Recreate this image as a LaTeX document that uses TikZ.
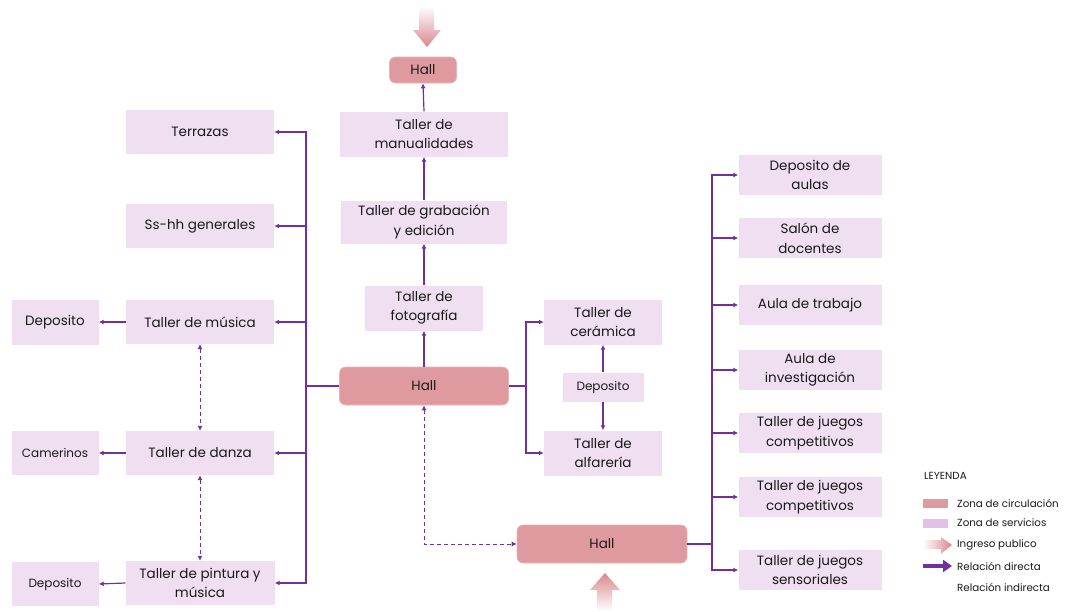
\documentclass[tikz,border=0pt]{standalone}
\usepackage{fontspec}
\setmainfont{Poppins}
\usetikzlibrary{arrows.meta}
\definecolor{svcfill}{HTML}{F0DFF1}
\definecolor{hallfill}{HTML}{DF9A9F}
\definecolor{hallline}{HTML}{E8B4B8}
\definecolor{arrowpink}{HTML}{D9878F}
\definecolor{legsvc}{HTML}{E2C0E8}
\definecolor{rel}{HTML}{7030A0}
\definecolor{txt}{HTML}{1A1A1A}
\begin{document}
\begin{tikzpicture}[x=1pt,y=-1pt,
  svc/.style={fill=svcfill, inner sep=0pt, align=center, text=txt,
    font=\fontsize{13.5}{19.5}\selectfont},
  hallbox/.style={fill=hallfill, draw=hallline, line width=0.6pt, rounded corners=6pt,
    inner sep=0pt, align=center, text=txt, font=\fontsize{13.5}{19.5}\selectfont},
  small/.style={font=\fontsize{12}{15}\selectfont},
  conn/.style={draw=rel, line width=1.2pt},
  dir/.style={conn, -{Latex[length=5pt,width=5pt]}},
  ind/.style={draw=rel, line width=0.9pt, dashed, dash pattern=on 4pt off 3pt,
    {Latex[length=5pt,width=5pt]}-{Latex[length=5pt,width=5pt]}},
  leg/.style={anchor=west, inner sep=0pt, text=txt, font=\fontsize{10.3}{12}\selectfont}
]
\useasboundingbox (0,0) rectangle (1066,611);

% ingress arrows
\shade[top color=white, bottom color=arrowpink]
  (419,6) -- (434,6) -- (434,30) -- (441,30) -- (427,47) -- (413,30) -- (419,30) -- cycle;
\shade[bottom color=white, top color=arrowpink]
  (597,611) -- (597,590) -- (590,590) -- (605,573) -- (620,590) -- (612,590) -- (612,611) -- cycle;

% central column
\node[hallbox, minimum width=67pt, minimum height=26pt] (hallt) at (423,70) {Hall};
\node[svc, minimum width=168pt, minimum height=45pt] (manu) at (424,134) {Taller de\\manualidades};
\node[svc, minimum width=166pt, minimum height=43pt] (grab) at (424,222) {Taller de grabación\\y edición};
\node[svc, minimum width=118pt, minimum height=45pt] (foto) at (424,308) {Taller de\\fotografía};
\node[hallbox, minimum width=169pt, minimum height=38pt] (hallc) at (424,386) {Hall};

% ceramics branch
\node[svc, minimum width=118pt, minimum height=45pt] (cer) at (603,322) {Taller de\\cerámica};
\node[svc, small, minimum width=81pt, minimum height=29pt] (depm) at (603,387) {Deposito};
\node[svc, minimum width=118pt, minimum height=45pt] (alf) at (603,453) {Taller de\\alfarería};

% bottom hall
\node[hallbox, minimum width=170pt, minimum height=38pt] (hallb) at (602,544) {Hall};

% left column
\node[svc, minimum width=148pt, minimum height=44pt] (terr) at (200,132) {Terrazas};
\node[svc, minimum width=148pt, minimum height=44pt] (sshh) at (200,226) {Ss-hh generales};
\node[svc, minimum width=148pt, minimum height=44pt] (mus) at (200,322) {Taller de música};
\node[svc, minimum width=148pt, minimum height=44pt] (dan) at (200,453) {Taller de danza};
\node[svc, minimum width=149pt, minimum height=44pt] (pint) at (200,583) {Taller de pintura y\\música};
\node[svc, minimum width=87pt, minimum height=45pt] (depl) at (55,322) {Deposito};
\node[svc, small, minimum width=87pt, minimum height=44pt] (cam) at (55,453) {Camerinos};
\node[svc, small, minimum width=87pt, minimum height=44pt] (depb) at (55,584) {Deposito};

% right column
\node[svc, minimum width=143pt, minimum height=40pt] (depa) at (810,175) {Deposito de\\aulas};
\node[svc, minimum width=143pt, minimum height=40pt] (salon) at (810,238) {Salón de\\docentes};
\node[svc, minimum width=143pt, minimum height=40pt] (aulat) at (810,305) {Aula de trabajo};
\node[svc, minimum width=143pt, minimum height=40pt] (aulai) at (810,370) {Aula de\\investigación};
\node[svc, minimum width=143pt, minimum height=40pt] (comp1) at (810,433) {Taller de juegos\\competitivos};
\node[svc, minimum width=143pt, minimum height=40pt] (comp2) at (810,497) {Taller de juegos\\competitivos};
\node[svc, minimum width=143pt, minimum height=40pt] (sens) at (810,570) {Taller de juegos\\sensoriales};

% central vertical connectors
\draw[dir] (hallc.north) -- (foto.south);
\draw[dir] (foto.north) -- (grab.south);
\draw[dir] (grab.north) -- (manu.south);
\draw[dir] (manu.north) -- (hallt.south);

% left trunk
\coordinate (lt) at (306,386);
\draw[conn] (hallc.west) -- (lt);
\draw[dir] (lt) |- (terr.east);
\draw[dir] (lt) |- (sshh.east);
\draw[dir] (lt) |- (mus.east);
\draw[dir] (lt) |- (dan.east);
\draw[dir] (lt) |- (pint.east);
\draw[dir] (mus.west) -- (depl.east);
\draw[dir] (dan.west) -- (cam.east);
\draw[dir] (pint.west) -- (depb.east);
\draw[ind] (mus.south) -- (dan.north);
\draw[ind] (dan.south) -- (pint.north);

% ceramics trunk
\coordinate (ct) at (526,386);
\draw[conn] (hallc.east) -- (ct);
\draw[dir] (ct) |- (cer.west);
\draw[dir] (ct) |- (alf.west);
\draw[dir] (depm.north) -- (cer.south);
\draw[dir] (depm.south) -- (alf.north);

% dashed hall link
\draw[ind] (hallc.south) |- (hallb.west);

% right trunk
\coordinate (rt) at (712,544);
\draw[conn] (hallb.east) -- (rt);
\foreach \n in {depa,salon,aulat,aulai,comp1,comp2,sens}
  \draw[dir] (rt) |- (\n.west);

% legend
\node[leg] (legt) at (924,476) {LEYENDA};
\fill[hallfill] (923,499) rectangle (948,508);
\fill[legsvc] (923,519) rectangle (948,528);
\shade[left color=white, right color=arrowpink]
  (923,540) -- (941,540) -- (941,537) -- (952,545) -- (941,554) -- (941,549) -- (923,549) -- cycle;
\draw[rel, line width=3.5pt, -{Triangle[length=9pt,width=12pt]}] (923,566) -- (952,566);
\node[leg] (l1) at (957,503) {Zona de circulación};
\node[leg] (l2) at (957,523) {Zona de servicios};
\node[leg] (l3) at (957,545) {Ingreso publico};
\node[leg] (l4) at (957,566) {Relación directa};
\node[leg] (l5) at (957,587) {Relación indirecta};
\end{tikzpicture}
\end{document}
